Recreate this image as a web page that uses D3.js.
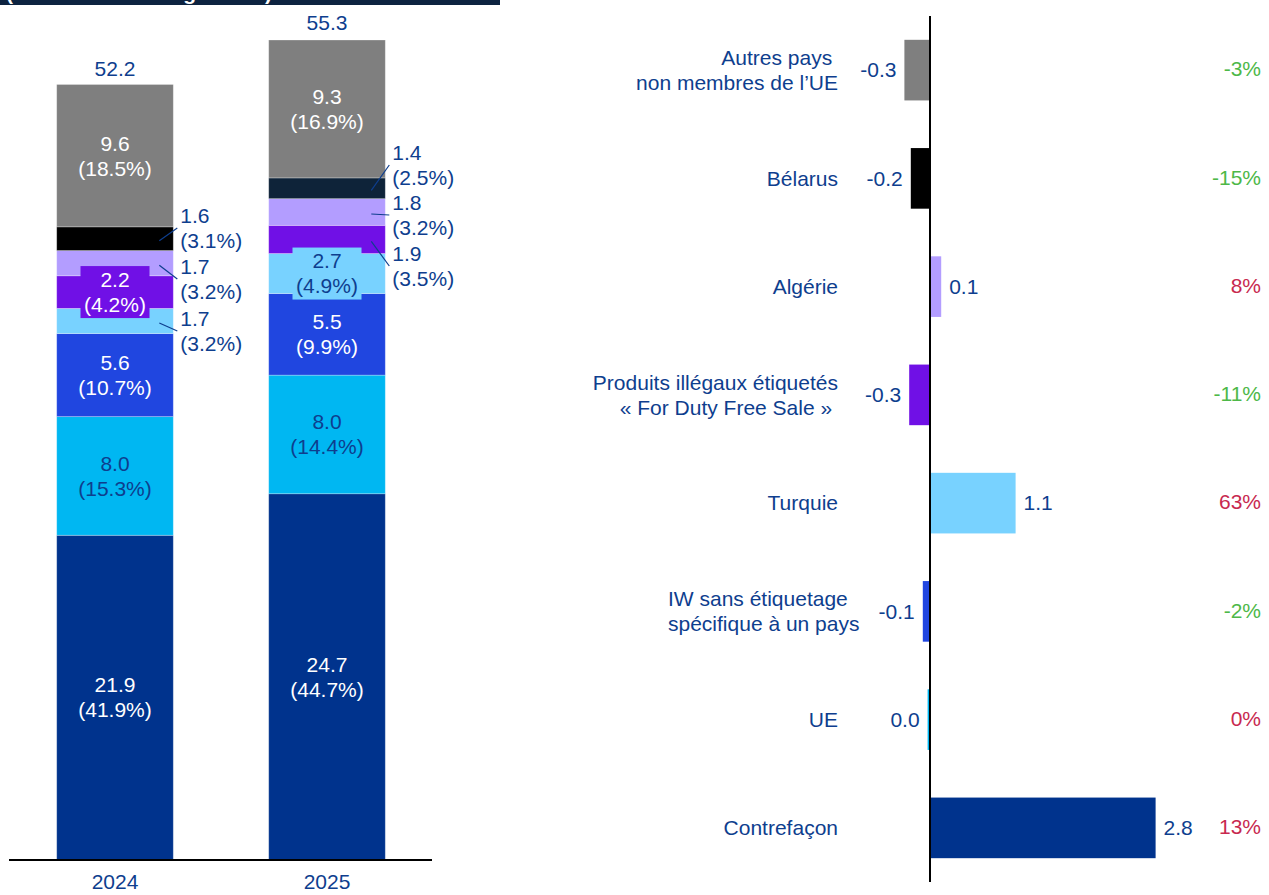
<!DOCTYPE html>
<meta charset="utf-8">
<head>
<script src="https://d3js.org/d3.v7.min.js"></script>
<style>
  body { margin: 0; background: #fff; }
  svg { font-family: "Liberation Sans", Arial, sans-serif; }
  text { white-space: pre; }
</style>
</head>
<body>
<script>
"use strict";
// data (stack order bottom -> top)
var categories = ["Contrefaçon", "UE", "IW", "Turquie", "DutyFree", "Algérie", "Bélarus", "Autres"];
var years = ["2024", "2025"];
var totals = [52.2, 55.3];
var values2024 = [21.9, 8.0, 5.6, 1.7, 2.2, 1.7, 1.6, 9.6];
var values2025 = [24.7, 8.0, 5.5, 2.7, 1.9, 1.8, 1.4, 9.3];
var shares2024 = [41.9, 15.3, 10.7, 3.2, 4.2, 3.2, 3.1, 18.5];
var shares2025 = [44.7, 14.4, 9.9, 4.9, 3.5, 3.2, 2.5, 16.9];
var change = [2.82, -0.03, -0.09, 1.07, -0.26, 0.14, -0.24, -0.32];
var changePct = [13, 0, -2, 63, -11, 8, -15, -3];
var categoryLabels = [
  ["Contrefaçon"],
  ["UE"],
  ["IW sans étiquetage", "spécifique à un pays"],
  ["Turquie"],
  ["Produits illégaux étiquetés", "« For Duty Free Sale »\u00a0"],
  ["Algérie"],
  ["Bélarus"],
  ["Autres pays\u00a0", "non membres de l\u2019UE"]
];

var colors = {
  "Contrefaçon": "#00338d", "UE": "#00b7f2", "IW": "#2046e0", "Turquie": "#78d2ff",
  "DutyFree": "#7010e6", "Algérie": "#b39dff", "Bélarus": "#000000", "Autres": "#7f7f7f"
};
var darkText = "#0e3e8e";
var lightSegs = ["UE", "Turquie"];

var width = 1269, height = 895;
var svg = d3.select("body").append("svg").attr("width", width).attr("height", height);

// header band (title cut off at top)
svg.append("rect").attr("x", 0).attr("y", 0).attr("width", 500).attr("height", 5).attr("fill", "#0d2340");
svg.append("text").attr("x", 272).attr("y", 0).attr("text-anchor", "end")
  .attr("fill", "#fff").style("font-size", "21px").style("font-weight", "bold")
  .text("(en milliards de cigarettes)");

// ---------- left: stacked bars ----------
var base = 860;
var x = d3.scaleBand().domain(years).range([9, 433]).paddingInner(0.45).paddingOuter(0.225);
var y = d3.scaleLinear().domain([0, 55.3]).range([base, 40]);

var series = [values2024, values2025];
var shares = [shares2024, shares2025];
// callout label positions (small segments)
var callouts = {
  "2024": { "Bélarus": 228, "Algérie": 279, "Turquie": 331 },
  "2025": { "Bélarus": 165, "Algérie": 215, "DutyFree": 266 }
};
var boxed = { "2024": "DutyFree", "2025": "Turquie" };

years.forEach(function(yr, j) {
  var vals = series[j];
  var cum = 0;
  var segs = vals.map(function(v, i) {
    var s = { cat: categories[i], v: v, share: shares[j][i], y0: cum, y1: cum + v };
    cum += v;
    return s;
  });
  var g = svg.append("g");
  g.selectAll("rect").data(segs).enter().append("rect")
    .attr("x", x(yr)).attr("width", x.bandwidth())
    .attr("y", function(d) { return y(d.y1); })
    .attr("height", function(d) { return y(d.y0) - y(d.y1); })
    .attr("fill", function(d) {
      if (d.cat === "Bélarus" && yr === "2025") return "#0e2339";
      return colors[d.cat];
    })
    .attr("stroke", "#fff").attr("stroke-opacity", 0.35).attr("stroke-width", 0.8);

  var cx = x(yr) + x.bandwidth() / 2;
  segs.forEach(function(d) {
    var cy = (y(d.y0) + y(d.y1)) / 2;
    var lines = [d.v.toFixed(1), "(" + d.share.toFixed(1) + "%)"];
    var co = callouts[yr][d.cat];
    if (co !== undefined) {
      var right = x(yr) + x.bandwidth();
      g.append("line").attr("x1", right - 14).attr("y1", cy + 2)
        .attr("x2", right + 4).attr("y2", co)
        .attr("stroke", darkText).attr("stroke-width", 1.2);
      lines.forEach(function(t, k) {
        g.append("text").attr("x", right + 7).attr("y", co - 12.5 + k * 25)
          .attr("dy", "0.35em").attr("fill", darkText).style("font-size", "21px").text(t);
      });
      return;
    }
    var tc = lightSegs.indexOf(d.cat) >= 0 ? darkText : "#fff";
    if (boxed[yr] === d.cat) {
      g.append("rect").attr("x", cx - 34.5).attr("y", cy - 26).attr("width", 69).attr("height", 52)
        .attr("fill", colors[d.cat]);
    }
    lines.forEach(function(t, k) {
      g.append("text").attr("x", cx).attr("y", cy - 12.5 + k * 25)
        .attr("dy", "0.35em").attr("text-anchor", "middle").attr("fill", tc)
        .style("font-size", "21px").text(t);
    });
  });

  svg.append("text").attr("x", cx).attr("y", y(totals[j]) - 10)
    .attr("text-anchor", "middle").attr("fill", darkText).style("font-size", "21px")
    .text(totals[j].toFixed(1));
});

svg.append("line").attr("x1", 9).attr("x2", 432).attr("y1", base).attr("y2", base)
  .attr("stroke", "#000").attr("stroke-width", 2);
years.forEach(function(yr) {
  svg.append("text").attr("x", x(yr) + x.bandwidth() / 2).attr("y", base + 29)
    .attr("text-anchor", "middle").attr("fill", darkText).style("font-size", "21px").text(yr);
});

// ---------- right: change bars ----------
var order = categories.slice().reverse();
var yb = d3.scaleBand().domain(order).range([16, 882]).paddingInner(0.44).paddingOuter(0.22);
var xc = d3.scaleLinear().domain([-1, 3]).range([850, 1170]);
var fmt = function(v) { var r = Math.round(v * 10) / 10; return (r === 0 ? 0 : r).toFixed(1); };

var rg = svg.append("g");
categories.forEach(function(c, i) {
  var v = change[i];
  var cy = yb(c) + yb.bandwidth() / 2;
  rg.append("rect")
    .attr("x", Math.min(xc(0), xc(v))).attr("width", Math.abs(xc(v) - xc(0)))
    .attr("y", yb(c)).attr("height", yb.bandwidth())
    .attr("fill", colors[c]);
  rg.append("text")
    .attr("x", v < 0 ? xc(v) - 8 : xc(v) + 8).attr("y", cy).attr("dy", "0.35em")
    .attr("text-anchor", v < 0 ? "end" : "start")
    .attr("fill", darkText).style("font-size", "21px").text(fmt(v));
  var lines = categoryLabels[i];
  var isIW = c === "IW";
  lines.forEach(function(t, k) {
    rg.append("text")
      .attr("x", isIW ? 668 : 838)
      .attr("y", cy + (k - (lines.length - 1) / 2) * 25).attr("dy", "0.35em")
      .attr("text-anchor", isIW ? "start" : "end")
      .attr("fill", darkText).style("font-size", "21px").text(t);
  });
  rg.append("text").attr("x", 1261).attr("y", cy - 1).attr("dy", "0.35em")
    .attr("text-anchor", "end").attr("fill", changePct[i] < 0 ? "#4db848" : "#c8294f")
    .style("font-size", "21px").text(changePct[i] + "%");
});

svg.append("line").attr("x1", xc(0)).attr("x2", xc(0)).attr("y1", 16).attr("y2", 882)
  .attr("stroke", "#000").attr("stroke-width", 2);
</script>
</body>
